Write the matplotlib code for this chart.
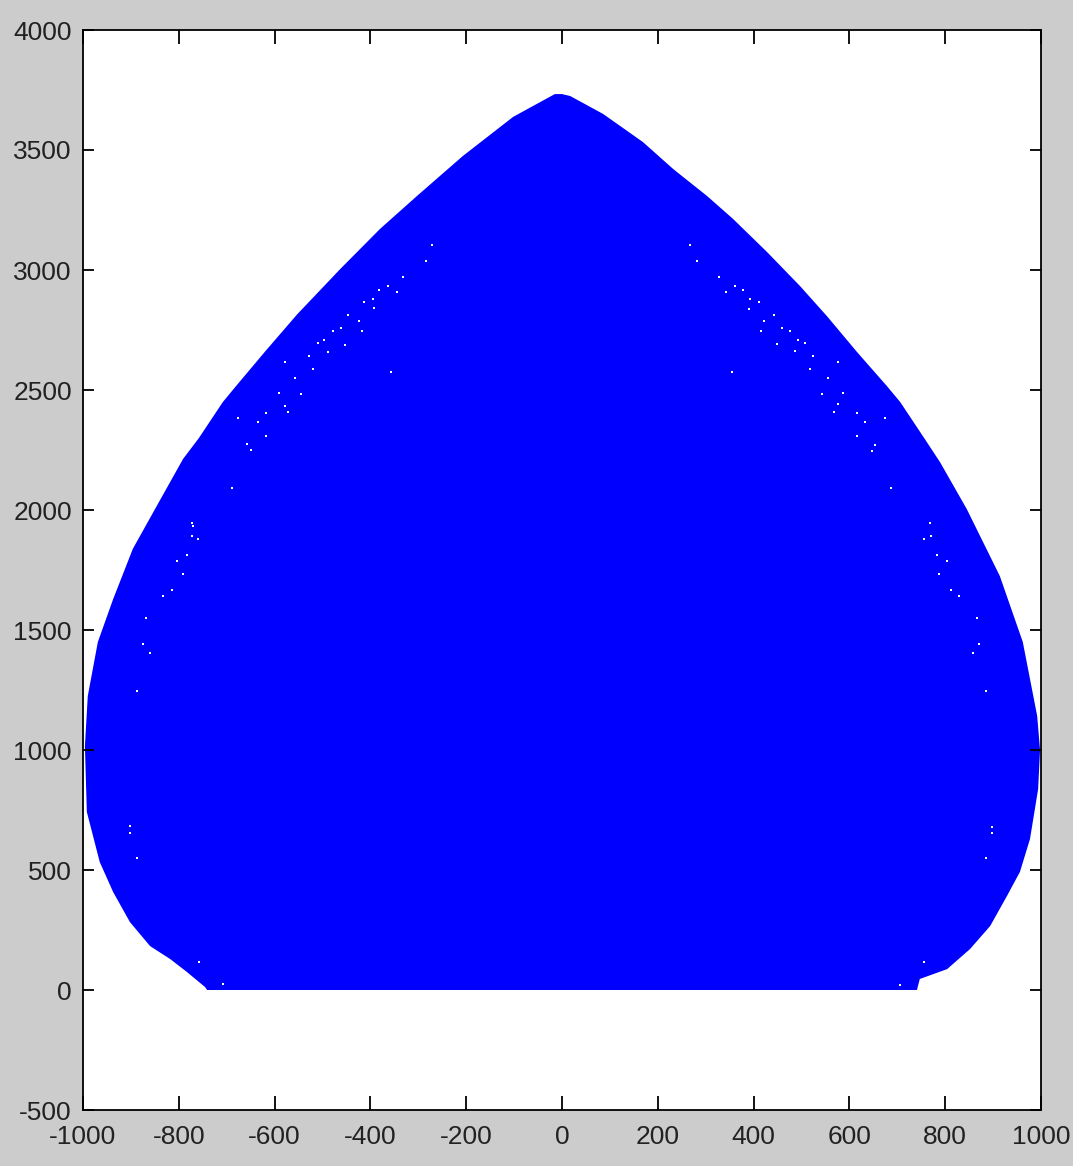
import numpy as np
import matplotlib.pyplot as plt

# outline of the reachable region (top -> bottom)
right_x = [0, 17, 86, 169, 232, 303, 357, 428, 497, 553, 616, 678, 706, 756, 789, 845,
           914, 962, 992, 998, 994, 977, 956, 929, 894, 852, 804, 747, 741]
right_y = [3733, 3725, 3650, 3533, 3421, 3308, 3213, 3075, 2933, 2808, 2658, 2517, 2450, 2300, 2200, 2004,
           1725, 1450, 1142, 1000, 837, 629, 492, 392, 267, 171, 87, 46, 0]
left_x = [-741, -745, -783, -818, -860, -902, -937, -965, -992, -996, -990, -969, -937,
          -896, -846, -791, -758, -708, -679, -620, -553, -463, -380, -303, -207, -102, -15]
left_y = [0, 12, 75, 129, 183, 283, 408, 533, 742, 1017, 1225, 1450, 1629,
          1838, 2017, 2213, 2300, 2450, 2520, 2660, 2815, 3004, 3171, 3308, 3475, 3638, 3733]

# small gaps (unreached grid points) inside the region
hole_x = [267, 282, 328, 361, 342, 378, 392, 411, 390, 443, 422, 415, 459, 476, 493, 507, 449,
          486, 524, 576, 355, 518, 555, 543, 587, 576, 568, 616, 633, 674, 616, 653, 647,
          687, 768, 756, 770, 783, 804, 787, 812, 829, 866, 871, 858, 885, 898, 898, 885, 756, 706,
          -271, -284, -332, -363, -344, -382, -395, -413, -392, -447, -424, -418, -461, -478, -497,
          -509, -453, -489, -528, -578, -357, -520, -557, -591, -545, -578, -572, -618, -676, -635,
          -618, -658, -649, -689, -772, -770, -772, -760, -783, -804, -791, -814, -833, -868, -875,
          -860, -887, -902, -902, -887, -758, -708]
hole_y = [3104, 3038, 2971, 2933, 2908, 2917, 2879, 2867, 2838, 2813, 2788, 2746, 2758, 2746, 2708, 2696, 2692,
          2663, 2642, 2617, 2575, 2588, 2550, 2483, 2488, 2442, 2408, 2404, 2367, 2383, 2308, 2271, 2246,
          2092, 1946, 1879, 1892, 1813, 1788, 1733, 1667, 1642, 1550, 1442, 1404, 1246, 679, 654, 550, 117, 21,
          3104, 3038, 2971, 2933, 2908, 2917, 2879, 2867, 2842, 2813, 2788, 2746, 2758, 2746, 2708,
          2696, 2688, 2658, 2642, 2617, 2575, 2588, 2550, 2488, 2483, 2433, 2408, 2404, 2383, 2367,
          2308, 2275, 2250, 2092, 1946, 1933, 1892, 1879, 1813, 1788, 1733, 1667, 1642, 1550, 1442,
          1404, 1246, 683, 654, 550, 117, 25]

xticks = np.arange(-1000, 1001, 200)
yticks = np.arange(-500, 4001, 500)

plt.rcParams['font.family'] = ['Liberation Sans', 'DejaVu Sans']
plt.rcParams['axes.unicode_minus'] = False

fig = plt.figure(figsize=(10.73, 11.66), dpi=100, facecolor='#cccccc')
ax = fig.add_axes([83 / 1073, 56 / 1166, 958 / 1073, 1080 / 1166])

# region
ax.fill(right_x + left_x, right_y + left_y, color='#0000ff', linewidth=0)
ax.plot(hole_x, hole_y, 's', color='white', markersize=1.8, markeredgewidth=0)

ax.set_xlim(-1000, 1000)
ax.set_ylim(-500, 4000)
ax.set_xticks(xticks)
ax.set_yticks(yticks)
ax.tick_params(axis='both', direction='in', top=True, right=True, width=1.3,
               labelsize=19, colors='black', labelcolor='#222222')
ax.tick_params(axis='x', length=10, pad=11)
ax.tick_params(axis='y', length=8, pad=8)
for s in ax.spines.values():
    s.set_linewidth(1.3)

fig.savefig('out.png', dpi=100, facecolor=fig.get_facecolor())
